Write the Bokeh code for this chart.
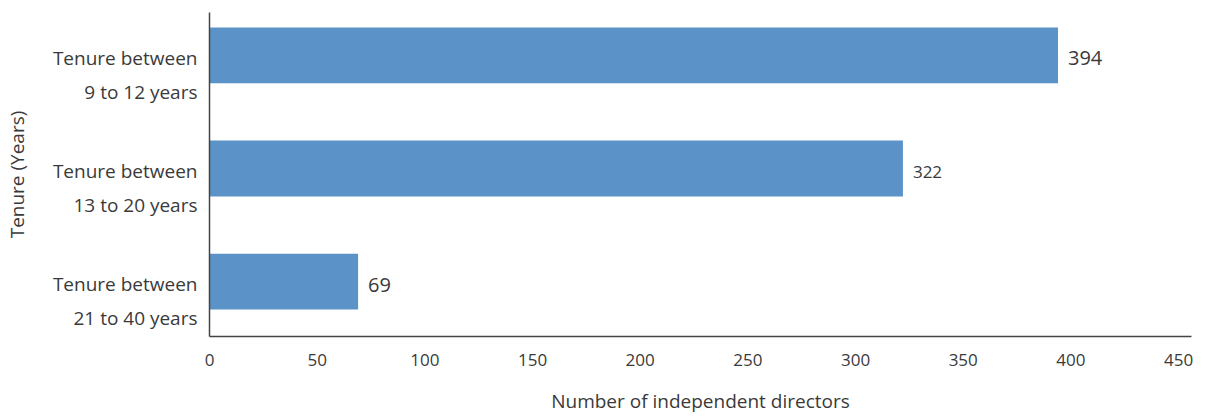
from bokeh.plotting import figure
from bokeh.models import FixedTicker, ColumnDataSource, Range1d
from bokeh.core.properties import value
from bokeh.embed import file_html
from bokeh.resources import INLINE

# ---- data ----
label_line1 = ["Tenure between", "Tenure between", "Tenure between"]
label_line2 = ["9 to 12 years", "13 to 20 years", "21 to 40 years"]
directors = [394, 322, 69]
x_tick_values = [0, 50, 100, 150, 200, 250, 300, 350, 400, 450]

# ---- styling ----
FONT = "Open Sans"
TEXT = "#3a3a3a"
BAR = "#5B93C8"
value_font_sizes = ["20px", "17px", "20px"]

n = len(directors)
pos = [n - 1 - i for i in range(n)]  # top to bottom

src = ColumnDataSource(dict(
    pos=pos,
    val=directors,
    txt=[str(v) for v in directors],
    fs=value_font_sizes,
))

p = figure(width=1207, height=416, output_backend="svg", toolbar_location=None,
           x_range=Range1d(0, 456), y_range=Range1d(-0.485, 2.379),
           min_border_left=209, min_border_right=16, min_border_top=12,
           min_border_bottom=79)
p.outline_line_color = None
p.xgrid.visible = False
p.ygrid.visible = False
p.background_fill_color = "white"
p.border_fill_color = "white"

p.hbar(y="pos", right="val", left=0, height=0.493, source=src,
       fill_color=BAR, line_color=None)

p.text(x="val", y="pos", text="txt", source=src, x_offset=10, y_offset=3,
       text_font=value(FONT), text_font_size="fs", text_color=TEXT,
       text_baseline="middle", text_align="left")

# x axis
xa = p.xaxis[0]
xa.ticker = FixedTicker(ticks=x_tick_values)
xa.major_tick_line_color = None
xa.minor_tick_line_color = None
xa.axis_line_color = "#444444"
xa.axis_line_width = 1.5
xa.major_label_text_font = FONT
xa.major_label_text_font_size = "17px"
xa.major_label_text_color = TEXT
xa.major_label_standoff = 11
xa.axis_label = "Number of independent directors"
xa.axis_label_text_font = FONT
xa.axis_label_text_font_size = "19px"
xa.axis_label_text_font_style = "normal"
xa.axis_label_text_color = TEXT
xa.axis_label_standoff = 19

# y axis: two tick labels per category to form two text lines
ticks = []
overrides = {}
for i in range(n):
    c = pos[i]
    t1 = c - 0.02
    t2 = c - 0.32
    ticks += [t1, t2]
    overrides[t1] = label_line1[i]
    overrides[t2] = label_line2[i]

ya = p.yaxis[0]
ya.ticker = FixedTicker(ticks=ticks)
ya.major_label_overrides = overrides
ya.major_tick_line_color = None
ya.minor_tick_line_color = None
ya.axis_line_color = "#444444"
ya.axis_line_width = 1.5
ya.major_label_text_font = FONT
ya.major_label_text_font_size = "19px"
ya.major_label_text_color = TEXT
ya.major_label_standoff = 6
ya.axis_label = "Tenure (Years)"
ya.axis_label_text_font = FONT
ya.axis_label_text_font_size = "19px"
ya.axis_label_text_font_style = "normal"
ya.axis_label_text_color = TEXT
ya.axis_label_standoff = 20

open("out.html", "w").write(file_html(p, INLINE))
